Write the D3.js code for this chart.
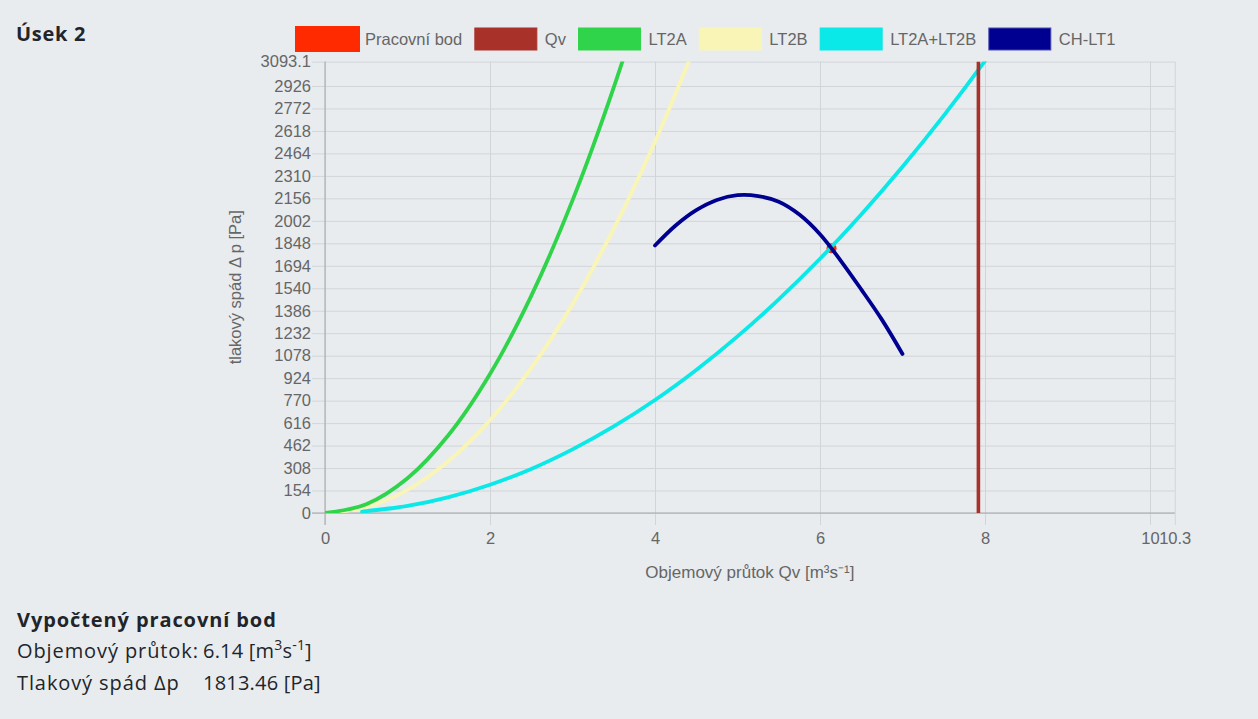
<!DOCTYPE html>
<html>
<head>
<meta charset="utf-8">
<script src="https://cdn.jsdelivr.net/npm/d3@7"></script>
<style>
  html, body { margin: 0; padding: 0; background: #e9ecef; }
  svg { display: block; }
</style>
</head>
<body>
<script>
// axis ticks
const xTicks = [0, 2, 4, 6, 8, 10, 10.3];
const yTicks = [0, 154, 308, 462, 616, 770, 924, 1078, 1232, 1386, 1540, 1694, 1848, 2002, 2156, 2310, 2464, 2618, 2772, 2926, 3093.1];

// legend
const seriesNames = ["Pracovní bod", "Qv", "LT2A", "LT2B", "LT2A+LT2B", "CH-LT1"];
const seriesColors = ["#ff2a00", "#a8322a", "#30d44a", "#f8f5b6", "#0ae8e8", "#000090"];

// data (Qv [m3/s], dp [Pa])
const workQ = [6.14];
const workP = [1813.46];
const qvQ = [7.92, 7.92];
const qvP = [0, 3093.1];
const lt2aQ = [0, 0.5, 1, 1.5, 2, 2.5, 3, 3.5, 4];
const lt2aP = [0, 60, 238, 536, 952, 1488, 2142, 2916, 3808];
const lt2bQ = [0, 0.5, 1, 1.5, 2, 2.5, 3, 3.5, 4, 4.5];
const lt2bP = [0, 40, 159, 358, 636, 994, 1431, 1948, 2544, 3220];
const sumQ = [0.45, 1, 1.5, 2, 2.5, 3, 3.5, 4, 4.5, 5, 5.5, 6, 6.5, 7, 7.5, 8, 8.5];
const sumP = [10, 48, 109, 194, 302, 436, 593, 774, 980, 1210, 1464, 1742, 2045, 2372, 2723, 3098, 3497];
const fanQ = [4, 4.25, 4.5, 4.75, 5, 5.25, 5.5, 5.75, 6, 6.25, 6.5, 6.75, 7];
const fanP = [1833, 1970, 2075, 2145, 2178, 2172, 2133, 2045, 1910, 1730, 1532, 1325, 1090];

const W = 1258, H = 719;
const pL = 325, pR = 1174.75, pT = 61.6, pB = 513;

const svg = d3.select("body").append("svg")
    .attr("width", W)
    .attr("height", H)
    .style("font-family", "'Liberation Sans', Arial, sans-serif");

const x = d3.scaleLinear().domain([0, 10.3]).range([pL, pR]);
const y = d3.scaleLinear().domain([0, 3093.1]).range([pB, pT]);

const gridColor = "#d2d5d8";
const tickColor = "#666";

// grid lines (with outside tick marks)
svg.append("g")
    .attr("transform", `translate(${pL - 13},0)`)
    .call(d3.axisLeft(y).tickValues(yTicks).tickSize(-(pR - pL + 13)).tickFormat(""))
    .call(g => g.select(".domain").remove())
    .call(g => g.selectAll("line").attr("stroke", gridColor));

svg.append("g")
    .attr("transform", `translate(0,${pB + 12})`)
    .call(d3.axisBottom(x).tickValues(xTicks).tickSize(-(pB - pT + 12)).tickFormat(""))
    .call(g => g.select(".domain").remove())
    .call(g => g.selectAll("line").attr("stroke", gridColor));

// tick labels
const yAxis = svg.append("g")
    .attr("transform", `translate(${pL},0)`)
    .call(d3.axisLeft(y).tickValues(yTicks).tickSize(13).tickPadding(1).tickFormat(d => String(d)));
yAxis.select(".domain").remove();
yAxis.selectAll("line").remove();
yAxis.selectAll("text").attr("fill", tickColor).style("font-size", "16.5px");

const xAxis = svg.append("g")
    .attr("transform", `translate(0,${pB})`)
    .call(d3.axisBottom(x).tickValues(xTicks).tickSize(12).tickPadding(7).tickFormat(d => String(d)));
xAxis.select(".domain").remove();
xAxis.selectAll("line").remove();
xAxis.selectAll("text").attr("fill", tickColor).style("font-size", "16.5px");

// zero lines
svg.append("line")
    .attr("x1", x(0)).attr("x2", x(0)).attr("y1", y(3093.1)).attr("y2", pB + 12)
    .attr("stroke", "#a3a5a8");
svg.append("line")
    .attr("x1", pL - 13).attr("x2", pR).attr("y1", y(0)).attr("y2", y(0))
    .attr("stroke", "#a3a5a8");

// axis titles
svg.append("text")
    .attr("x", (pL + pR) / 2)
    .attr("y", 578)
    .attr("text-anchor", "middle")
    .attr("fill", tickColor)
    .style("font-size", "17px")
    .text("Objemový průtok Qv [m³s⁻¹]");

svg.append("text")
    .attr("transform", `translate(241,${(pT + pB) / 2}) rotate(-90)`)
    .attr("text-anchor", "middle")
    .attr("fill", tickColor)
    .style("font-size", "16.5px")
    .text("tlakový spád Δ p [Pa]");

// plot
svg.append("clipPath").attr("id", "plot")
    .append("rect")
    .attr("x", pL).attr("y", pT)
    .attr("width", pR - pL).attr("height", pB - pT);

const plot = svg.append("g").attr("clip-path", "url(#plot)");

const line = d3.line()
    .x(d => x(d[0]))
    .y(d => y(d[1]))
    .curve(d3.curveCatmullRom.alpha(0.5));

// working point sits under the crossing lines
plot.selectAll(".work")
    .data(d3.zip(workQ, workP))
    .enter().append("circle")
    .attr("cx", d => x(d[0]))
    .attr("cy", d => y(d[1]))
    .attr("r", 5)
    .attr("fill", seriesColors[0]);

const lines = [
    [lt2bQ, lt2bP, seriesColors[3]],
    [lt2aQ, lt2aP, seriesColors[2]],
    [sumQ, sumP, seriesColors[4]],
    [fanQ, fanP, seriesColors[5]]
];
lines.forEach(([qs, ps, c]) => {
    plot.append("path")
        .datum(d3.zip(qs, ps))
        .attr("d", line)
        .attr("fill", "none")
        .attr("stroke", c)
        .attr("stroke-width", 3.8)
        .attr("stroke-linecap", "round");
});

plot.append("path")
    .datum(d3.zip(qvQ, qvP))
    .attr("d", d3.line().x(d => x(d[0])).y(d => y(d[1])))
    .attr("stroke", seriesColors[1])
    .attr("stroke-width", 3.6);

// legend
const legend = svg.append("g").style("font-size", "16.5px");
let lx = 295;
seriesNames.forEach((name, i) => {
    const item = legend.append("g").attr("transform", `translate(${lx},0)`);
    if (i === 0) {
        item.append("rect")
            .attr("x", 1.5).attr("y", 27.5).attr("width", 62).attr("height", 23)
            .attr("fill", seriesColors[i]).attr("stroke", seriesColors[i]).attr("stroke-width", 3);
    } else {
        item.append("rect")
            .attr("x", 0).attr("y", 28).attr("width", 62).attr("height", 22)
            .attr("fill", seriesColors[i])
            .attr("stroke", i === 5 ? "#4b4bb3" : seriesColors[i]);
    }
    const t = item.append("text")
        .attr("x", 70)
        .attr("y", 39)
        .attr("dy", "0.35em")
        .attr("fill", tickColor)
        .text(name);
    lx += 70 + t.node().getComputedTextLength() + 12.6;
});

// page texts
const textFont = "'Open Sans', 'Noto Sans', sans-serif";
const dark = "#212529";

svg.append("text")
    .attr("x", 16).attr("y", 41)
    .attr("fill", dark)
    .style("font-family", textFont).style("font-weight", 700).style("font-size", "20px")
    .style("letter-spacing", "0.7px")
    .text("Úsek 2");

svg.append("text")
    .attr("x", 17).attr("y", 627)
    .attr("fill", dark)
    .style("font-family", textFont).style("font-weight", 700).style("font-size", "20px")
    .style("letter-spacing", "0.9px")
    .text("Vypočtený pracovní bod");

const rowLabels = ["Objemový průtok:", "Tlakový spád Δp"];
const rowValues = ["6.14", "1813.46"];
const rowY = [658, 690];

rowLabels.forEach((lab, i) => {
    svg.append("text")
        .attr("x", 17).attr("y", rowY[i])
        .attr("fill", dark)
        .style("font-family", textFont).style("font-size", "20px")
        .style("letter-spacing", "0.9px")
        .text(lab);
    const v = svg.append("text")
        .attr("x", 203).attr("y", rowY[i])
        .attr("fill", dark)
        .style("font-family", textFont).style("font-size", "20px")
        .style("letter-spacing", "0.2px");
    v.append("tspan").text(rowValues[i] + " [");
    if (i === 0) {
        v.append("tspan").text("m");
        v.append("tspan").attr("dy", -8).style("font-size", "14px").text("3");
        v.append("tspan").attr("dy", 8).text("s");
        v.append("tspan").attr("dy", -8).style("font-size", "14px").text("-1");
        v.append("tspan").attr("dy", 8).text("]");
    } else {
        v.append("tspan").text("Pa]");
    }
});
</script>
</body>
</html>
